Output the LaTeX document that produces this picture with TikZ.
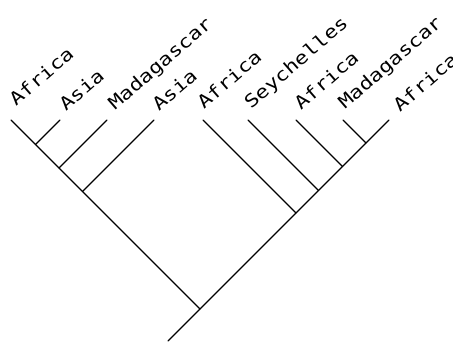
\documentclass[tikz,border=0pt]{standalone}
\usepackage{fontspec}
\usepackage{graphicx}
\newfontfamily\labfont{DejaVu Sans Mono}
\newcommand{\wide}[1]{\scalebox{1.2}[1]{#1}}
\begin{document}
\begin{tikzpicture}[x=1pt,y=-1pt,
  branch/.style={line width=1.1pt, line cap=round, line join=round},
  lab/.style={rotate=41, anchor=base west, inner sep=0pt, font=\labfont\fontsize{18}{18}\selectfont}]
\useasboundingbox (0,0) rectangle (453,342);
% tips
\coordinate (L1) at (11,120);
\coordinate (L2) at (60,120);
\coordinate (L3) at (107,120);
\coordinate (L4) at (154,120);
\coordinate (R1) at (203,120);
\coordinate (R2) at (248,120);
\coordinate (R3) at (296,120);
\coordinate (R4) at (343,120);
\coordinate (R5) at (389,120);
% internal nodes
\coordinate (n1) at (35.5,144.5);
\coordinate (n2) at (59,168);
\coordinate (n3) at (82.5,191.5);
\coordinate (root) at (200,309);
\coordinate (m1) at (296,213);
\coordinate (m2) at (318.5,190.5);
\coordinate (m3) at (342.5,166.5);
\coordinate (m4) at (366,143);
\coordinate (base) at (168,341);
% branches
\draw[branch] (L1) -- (n1) -- (n2) -- (n3) -- (root);
\draw[branch] (L2) -- (n1);
\draw[branch] (L3) -- (n2);
\draw[branch] (L4) -- (n3);
\draw[branch] (base) -- (root) -- (m1) -- (m2) -- (m3) -- (m4) -- (R5);
\draw[branch] (R1) -- (m1);
\draw[branch] (R2) -- (m2);
\draw[branch] (R3) -- (m3);
\draw[branch] (R4) -- (m4);
% labels
\node[lab] (tL1) at (16,107) {\wide{Africa}};
\node[lab] (tL2) at (66,112) {\wide{Asia}};
\node[lab] (tL3) at (115,111) {\wide{Madagascar}};
\node[lab] (tL4) at (159,112) {\wide{Asia}};
\node[lab] (tR1) at (204,110) {\wide{Africa}};
\node[lab] (tR2) at (251,110) {\wide{Seychelles}};
\node[lab] (tR3) at (301,111) {\wide{Africa}};
\node[lab] (tR4) at (345,110) {\wide{Madagascar}};
\node[lab] (tR5) at (400,113) {\wide{Africa}};
\end{tikzpicture}
\end{document}
